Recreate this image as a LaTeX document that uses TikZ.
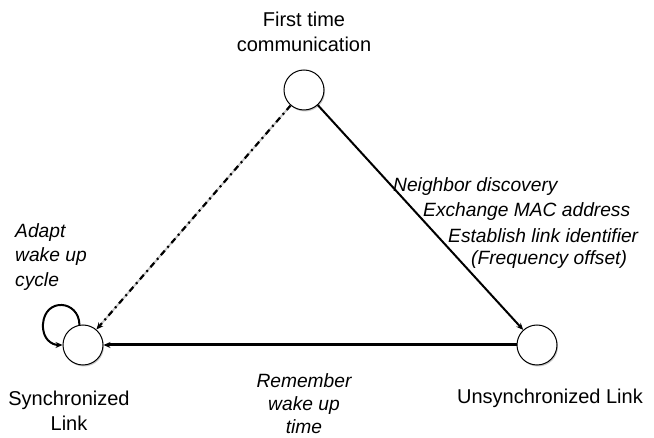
\documentclass[tikz,border=0pt]{standalone}
\usepackage{fontspec}
\setmainfont{Liberation Sans}
\usetikzlibrary{arrows.meta,shadows}
\begin{document}
\begin{tikzpicture}[x=1pt,y=-1pt,
  state/.style={circle,draw=black,line width=1pt,fill=white,minimum size=40pt,inner sep=0pt,
    drop shadow={shadow xshift=1pt,shadow yshift=-1.5pt,opacity=0.35,fill=black!60}},
  lbl/.style={font=\fontsize{20}{24.5}\selectfont,align=center,inner sep=0pt},
  ilbl/.style={font=\fontsize{19.2}{24.5}\selectfont\itshape,inner sep=0pt},
  tip/.style={-{Stealth[length=7pt,width=6pt]}}]
\useasboundingbox (0,0) rectangle (654,438);
\node[state] (T) at (304,90) {};
\node[state] (L) at (83,345) {};
\node[state] (R) at (537,345) {};
% labels
\node[lbl] (tl) at (304,32) {First time\\communication};
\node[lbl] (ll) at (69,411) {Synchronized\\Link};
\node[lbl] (rl) at (550,398) {Unsynchronized Link};
\node[ilbl,align=center,font=\fontsize{19.2}{23}\selectfont\itshape] (ml) at (304,404) {Remember\\wake up\\time};
\node[ilbl,align=left,anchor=west] (al) at (15,257) {Adapt\\wake up\\cycle};
\node[ilbl,anchor=west] (n1) at (393,187) {Neighbor discovery};
\node[ilbl,anchor=west] (n2) at (423,212) {Exchange MAC address};
\node[ilbl,anchor=west] (n3) at (448,236) {Establish link identifier};
\node[ilbl,anchor=west] (n4) at (471,260) {(Frequency offset)};
% connectors
\draw[tip,line width=2pt] (T) -- (R);
\draw[tip,line width=3pt] (R) -- (L);
\draw[line width=1.8pt,black!22,shorten >=6pt] (T) -- (L);
\draw[tip,line width=2.2pt,dash pattern=on 6pt off 4pt on 2pt off 4pt] (T) -- (L);
\draw[tip,line width=2pt] (L.100) .. controls (79,300) and (45,297) .. (43,324)
  .. controls (42,339) and (52,345) .. (L.west);
\end{tikzpicture}
\end{document}
